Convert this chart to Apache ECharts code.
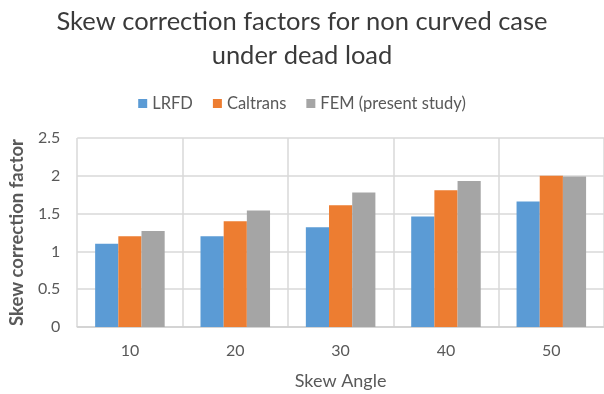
<!DOCTYPE html>
<html>
<head>
<meta charset="utf-8">
<script src="https://cdn.jsdelivr.net/npm/echarts@6/dist/echarts.min.js"></script>
<style>
html,body{margin:0;padding:0;background:#fff;}
#chart{width:604px;height:394px;}
</style>
</head>
<body>
<div id="chart"></div>
<script>
const categories = ['10', '20', '30', '40', '50'];
const lrfd = [1.10, 1.20, 1.32, 1.46, 1.66];
const caltrans = [1.20, 1.40, 1.61, 1.81, 2.00];
const fem = [1.27, 1.54, 1.78, 1.93, 1.99];
const seriesNames = ['LRFD', 'Caltrans', 'FEM (present study)'];
const titleText = 'Skew correction factors for non curved case\nunder dead load';
const xAxisTitle = 'Skew Angle';
const yAxisTitle = 'Skew correction factor';

const FONT = 'Lato';
const chart = echarts.init(document.getElementById('chart'), null, {renderer: 'canvas'});
const colors = ['#5B9BD5', '#ED7D31', '#A5A5A5'];
const values = [lrfd, caltrans, fem];

chart.setOption({
  animation: false,
  color: colors,
  title: {
    text: titleText,
    left: 'center',
    top: 0,
    textStyle: {fontFamily: FONT, fontSize: 25.5, fontWeight: 'normal', color: '#3A3A3A', lineHeight: 34}
  },
  legend: {
    data: seriesNames,
    top: 90,
    left: 'center',
    itemWidth: 9,
    itemHeight: 9,
    itemGap: 20,
    icon: 'rect',
    textStyle: {fontFamily: FONT, fontSize: 16.5, color: '#595959'}
  },
  grid: {left: 73, top: 138, width: 536, height: 189},
  xAxis: {
    type: 'category',
    data: categories,
    name: xAxisTitle,
    nameLocation: 'middle',
    nameGap: 45,
    nameTextStyle: {fontFamily: FONT, fontSize: 18, color: '#595959'},
    axisLine: {show: true, lineStyle: {color: '#D0D0D0', width: 1.5}},
    axisTick: {show: false},
    splitLine: {show: true, lineStyle: {color: '#D9D9D9', width: 1.5}},
    axisLabel: {fontFamily: FONT, fontSize: 16, color: '#595959', margin: 16}
  },
  yAxis: {
    type: 'value',
    min: 0,
    max: 2.5,
    interval: 0.5,
    name: yAxisTitle,
    nameLocation: 'middle',
    nameGap: 47,
    nameTextStyle: {fontFamily: FONT, fontSize: 18.5, fontWeight: 'bold', color: '#595959'},
    axisLine: {show: false},
    axisTick: {show: false},
    splitLine: {show: true, lineStyle: {color: '#D9D9D9', width: 1.5}},
    axisLabel: {fontFamily: FONT, fontSize: 16, color: '#595959', margin: 17}
  },
  series: seriesNames.map((n, i) => ({
    name: n,
    type: 'bar',
    data: values[i],
    barGap: '0%',
    barCategoryGap: '34%'
  }))
});
</script>
</body>
</html>
